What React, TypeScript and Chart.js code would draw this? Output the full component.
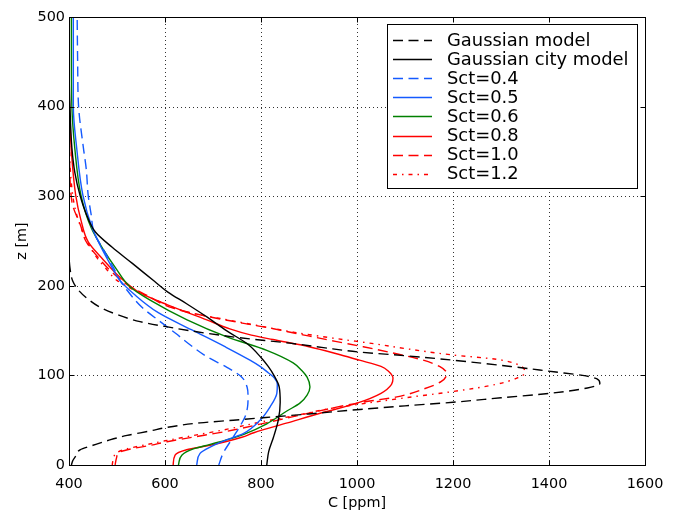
import React, { useEffect, useRef } from 'react';
import { Chart, registerables } from 'chart.js';

Chart.register(...registerables);

const FONT = "'DejaVu Sans', 'Liberation Sans', sans-serif";

// ---- data: z [m] and C [ppm] for each profile ----
const gaussModelZ = [0, 5, 10, 17, 22, 28, 33, 38, 42, 47, 50, 53, 57, 62, 66, 70, 75, 80, 86, 91, 96, 100, 104, 110, 117, 122, 126, 131, 136, 142, 147, 153, 160, 168, 176, 185, 195, 205, 220, 240, 280, 500];
const gaussModelC = [405, 408, 414, 423, 450, 485, 521, 569, 604, 673, 742, 810, 900, 1006, 1100, 1200, 1300, 1402, 1480, 1506, 1500, 1470, 1410, 1320, 1200, 1100, 1006, 930, 860, 756, 687, 617, 548, 500, 465, 440, 420, 408, 402, 400, 400, 400];

const gaussCityZ = [0, 15, 31, 50, 70, 87, 100, 110, 120, 135, 150, 165, 180, 193, 205, 225, 243, 260, 280, 301, 327, 354, 400, 450, 500];
const gaussCityC = [812, 816, 826, 836, 840, 838, 827, 815, 800, 772, 728, 688, 645, 606, 578, 532, 490, 455, 436, 423, 412, 406, 402, 400, 400];

const sct04Z = [0, 13, 31, 44, 54, 65, 76, 87, 98, 109, 120, 135, 147, 160, 176, 195, 206, 220, 240, 260, 280, 301, 330, 354, 400, 450, 500];
const sct04C = [712, 721, 742, 757, 767, 772, 773, 771, 760, 729, 690, 650, 622, 590, 552, 521, 506, 493, 472, 452, 446, 440, 436, 430, 420, 418, 417];

const sct05Z = [0, 13, 20, 28, 35, 50, 65, 80, 90, 97, 103, 110, 117, 132, 151, 170, 190, 206, 225, 245, 265, 301, 354, 400, 450, 500];
const sct05C = [666, 673, 694, 728, 763, 798, 819, 833, 834, 828, 815, 798, 777, 725, 655, 586, 537, 506, 485, 465, 448, 429, 416, 409, 409, 409];

const sct06Z = [0, 11, 18, 23, 28, 34, 46, 60, 69, 78, 87, 98, 106, 114, 128, 143, 162, 184, 199, 220, 240, 265, 301, 354, 400, 450, 500];
const sct06C = [628, 635, 659, 694, 728, 763, 812, 853, 881, 896, 902, 896, 884, 867, 812, 729, 646, 569, 527, 497, 472, 446, 425, 412, 406, 405, 405];

const sct08Z = [0, 11, 17, 22, 31, 36, 47, 58, 69, 80, 90, 97, 105, 110, 117, 123, 132, 140, 145, 152, 162, 179, 192, 200, 210, 230, 249, 273, 301, 350, 400, 450, 500];
const sct08C = [617, 621, 645, 694, 760, 785, 855, 925, 1000, 1050, 1072, 1075, 1065, 1050, 1005, 965, 900, 825, 780, 735, 687, 604, 548, 527, 505, 470, 440, 425, 414, 405, 401, 400, 400];

const sct10Z = [0, 8, 14, 18, 22, 26, 31, 39, 47, 54, 63, 70, 76, 85, 93, 102, 110, 117, 125, 132, 138, 145, 152, 159, 166, 175, 190, 200, 214, 229, 250, 266, 294, 350, 400, 500];
const sct10C = [496, 499, 505, 530, 570, 604, 658, 742, 810, 867, 944, 1010, 1083, 1140, 1175, 1187, 1172, 1138, 1075, 1013, 955, 890, 826, 755, 687, 617, 560, 525, 492, 465, 435, 425, 406, 401, 400, 400];

const sct12Z = [0, 8, 14, 18, 22, 27, 33, 40, 48, 55, 63, 69, 75, 82, 90, 97, 103, 109, 114, 118, 123, 130, 135, 141, 148, 156, 163, 170, 182, 192, 206, 218, 230, 243, 265, 288, 320, 360, 500];
const sct12C = [490, 493, 500, 520, 555, 600, 660, 730, 800, 870, 944, 1020, 1100, 1200, 1290, 1333, 1350, 1345, 1325, 1290, 1196, 1100, 1040, 958, 870, 790, 720, 652, 590, 548, 500, 479, 460, 444, 425, 412, 404, 401, 400];

const seriesLabels = ['Gaussian model', 'Gaussian city model', 'Sct=0.4', 'Sct=0.5', 'Sct=0.6', 'Sct=0.8', 'Sct=1.0', 'Sct=1.2'];
const seriesZ = [gaussModelZ, gaussCityZ, sct04Z, sct05Z, sct06Z, sct08Z, sct10Z, sct12Z];
const seriesC = [gaussModelC, gaussCityC, sct04C, sct05C, sct06C, sct08C, sct10C, sct12C];

// ---- styles ----
const DASH = [10, 5.5];
const DASHDOT = [4, 5, 1.5, 5];
const BLUE = 'rgb(20,90,255)';
const seriesColors = ['#000000', '#000000', BLUE, BLUE, '#008000', '#ff0000', '#ff0000', '#ff0000'];
const seriesDash = [DASH, [], DASH, [], [], [], DASH, DASHDOT];

const frameLegendPlugin = {
  id: 'frameLegend',
  beforeDatasetsDraw(chart: any) {
    const { ctx, chartArea: a, scales } = chart;
    ctx.save();
    ctx.strokeStyle = 'rgba(0,0,0,0.8)';
    ctx.lineWidth = 1;
    ctx.setLineDash([1, 3]);
    for (const t of scales.x.ticks) {
      const px = Math.round(scales.x.getPixelForValue(t.value)) + 0.5;
      ctx.beginPath();
      ctx.moveTo(px, a.bottom);
      ctx.lineTo(px, a.top);
      ctx.stroke();
    }
    for (const t of scales.y.ticks) {
      const py = Math.round(scales.y.getPixelForValue(t.value)) + 0.5;
      ctx.beginPath();
      ctx.moveTo(a.left, py);
      ctx.lineTo(a.right, py);
      ctx.stroke();
    }
    ctx.restore();
  },
  afterDatasetsDraw(chart: any) {
    const { ctx, chartArea: a, scales } = chart;
    ctx.save();
    ctx.setLineDash([]);
    ctx.strokeStyle = '#000';
    ctx.lineWidth = 1;
    const L = Math.round(a.left) + 0.5, R = Math.round(a.right) + 0.5;
    const T = Math.round(a.top) + 0.5, B = Math.round(a.bottom) + 0.5;
    ctx.strokeRect(L, T, R - L, B - T);
    const tl = 5;
    ctx.beginPath();
    for (const t of scales.x.ticks) {
      const px = Math.round(scales.x.getPixelForValue(t.value)) + 0.5;
      ctx.moveTo(px, B); ctx.lineTo(px, B - tl);
      ctx.moveTo(px, T); ctx.lineTo(px, T + tl);
    }
    for (const t of scales.y.ticks) {
      const py = Math.round(scales.y.getPixelForValue(t.value)) + 0.5;
      ctx.moveTo(L, py); ctx.lineTo(L + tl, py);
      ctx.moveTo(R, py); ctx.lineTo(R - tl, py);
    }
    ctx.stroke();

    // legend
    const lx = 387.5, ly = 24.5, lw = 250, lh = 164;
    ctx.fillStyle = '#fff';
    ctx.fillRect(lx, ly, lw, lh);
    ctx.strokeStyle = '#000';
    ctx.strokeRect(lx, ly, lw, lh);
    ctx.font = `17.9px ${FONT}`;
    ctx.textBaseline = 'middle';
    ctx.textAlign = 'left';
    chart.data.datasets.forEach((ds: any, i: number) => {
      const cy = 40 + i * 19.1;
      ctx.strokeStyle = ds.borderColor;
      ctx.lineWidth = 1.4;
      ctx.setLineDash(ds.borderDash || []);
      ctx.beginPath();
      ctx.moveTo(393, Math.round(cy) + 0.5);
      ctx.lineTo(432, Math.round(cy) + 0.5);
      ctx.stroke();
      ctx.setLineDash([]);
      ctx.fillStyle = '#000';
      ctx.fillText(ds.label, 447, cy + 1);
    });
    ctx.restore();
  },
};

export default function App() {
  const ref = useRef<HTMLCanvasElement>(null);
  useEffect(() => {
    if (!ref.current) return;
    const datasets = seriesLabels.map((label, i) => ({
      label,
      data: seriesZ[i].map((z, k) => ({ x: seriesC[i][k], y: z })),
      borderColor: seriesColors[i],
      backgroundColor: seriesColors[i],
      borderDash: seriesDash[i],
      borderWidth: 1.4,
      showLine: true,
      pointRadius: 0,
      pointHoverRadius: 0,
      cubicInterpolationMode: 'monotone',
      indexAxis: 'y',
      fill: false,
    }));
    const tickFont = { family: FONT, size: 14.4 };
    const chart = new Chart(ref.current, {
      type: 'scatter',
      data: { datasets },
      options: {
        responsive: false,
        animation: false,
        indexAxis: 'y',
        layout: { padding: { top: 17, right: 36, bottom: 0, left: 0 } },
        plugins: { legend: { display: false }, tooltip: { enabled: false } },
        scales: {
          x: {
            type: 'linear',
            axis: 'x',
            position: 'bottom',
            min: 400,
            max: 1600,
            afterFit: (s: any) => { s.height = 48; },
            grid: { display: false, drawTicks: false },
            border: { display: false },
            ticks: { stepSize: 200, padding: 11, color: '#000', font: tickFont, maxRotation: 0, autoSkip: false, callback: (v: any) => String(v) },
            title: { display: true, text: 'C [ppm]', color: '#000', font: tickFont, padding: { top: 0, bottom: 1 } },
          },
          y: {
            type: 'linear',
            axis: 'y',
            position: 'left',
            min: 0,
            max: 500,
            afterFit: (s: any) => { s.width = 69; },
            grid: { display: false, drawTicks: false },
            border: { display: false },
            ticks: { stepSize: 100, padding: 4, color: '#000', font: tickFont, autoSkip: false, callback: (v: any) => String(v) },
            title: { display: true, text: 'z [m]', color: '#000', font: tickFont, padding: { top: 14, bottom: 0 } },
          },
        },
      } as any,
      plugins: [frameLegendPlugin],
    });
    return () => chart.destroy();
  }, []);
  return (
    <div style={{ position: 'fixed', left: 0, top: 0, width: 681, height: 513, background: '#fff' }}>
      <canvas ref={ref} width={681} height={513} style={{ display: 'block', width: 681, height: 513 }} />
    </div>
  );
}
